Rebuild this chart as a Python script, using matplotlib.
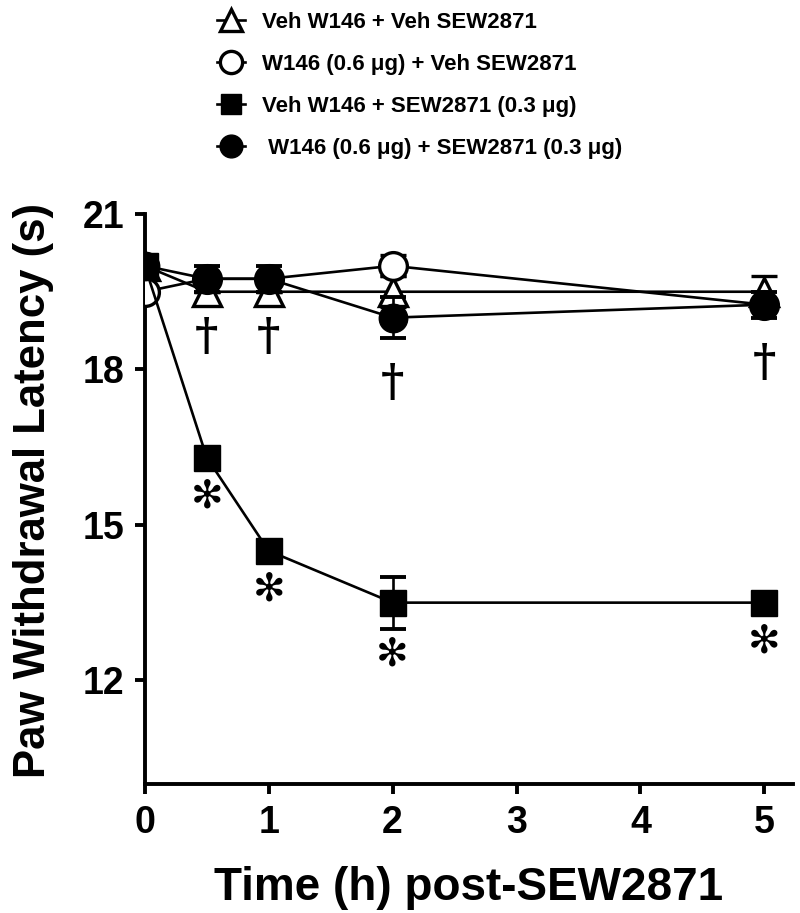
import numpy as np
import matplotlib.pyplot as plt
from matplotlib.lines import Line2D

# time points (h)
time_h = [0, 0.5, 1, 2, 5]

# mean paw withdrawal latency (s) and SEM
veh_veh = [20.0, 19.5, 19.5, 19.5, 19.5]
veh_veh_sem = [0.0, 0.0, 0.0, 0.3, 0.3]
w146_veh = [19.5, 19.75, 19.75, 20.0, 19.25]
w146_veh_sem = [0.0, 0.0, 0.0, 0.2, 0.0]
veh_sew = [20.0, 16.3, 14.5, 13.5, 13.5]
veh_sew_sem = [0.0, 0.0, 0.0, 0.5, 0.0]
w146_sew = [20.0, 19.75, 19.75, 19.0, 19.25]
w146_sew_sem = [0.0, 0.25, 0.25, 0.4, 0.25]

labels = [
    "Veh W146 + Veh SEW2871",
    "W146 (0.6 \u03bcg) + Veh SEW2871",
    "Veh W146 + SEW2871 (0.3 \u03bcg)",
    " W146 (0.6 \u03bcg) + SEW2871 (0.3 \u03bcg)",
]

# significance marks
star_x = [0.5, 1, 2, 5]      # * vs vehicle
dagger_x = [0.5, 1, 2, 5]    # dagger vs SEW2871 alone

plt.rcParams['font.family'] = ['Liberation Sans', 'DejaVu Sans']
plt.rcParams['font.weight'] = 'bold'

fig = plt.figure(figsize=(8, 9.13), dpi=100)
ax = fig.add_axes([0.181, 0.1413, 0.81, 0.6243])

lw = 1.9
common = dict(color='black', linewidth=lw, elinewidth=lw, capsize=9.5, capthick=2.8)

styles = [
    dict(marker='^', ms=20, mfc='white', mec='black', mew=2.4),
    dict(marker='o', ms=20, mfc='white', mec='black', mew=2.4),
    dict(marker='s', ms=18.5, mfc='black', mec='black'),
    dict(marker='o', ms=20.5, mfc='black', mec='black'),
]
series = [(veh_veh, veh_veh_sem), (w146_veh, w146_veh_sem),
          (veh_sew, veh_sew_sem), (w146_sew, w146_sew_sem)]

for k, ((m, e), st) in enumerate(zip(series, styles)):
    ax.errorbar(time_h, m, yerr=e, zorder=3 + k, **common, **st)

# asterisks under the SEW2871 squares
for xv in star_x:
    i = time_h.index(xv)
    below = max(13, veh_sew_sem[i] * 52)
    ax.annotate("\u273b", (xv, veh_sew[i]), xytext=(0, -(below + 26)),
                textcoords='offset pixels', ha='center', va='center',
                fontsize=28, family=['DejaVu Sans'], zorder=7)

# daggers under the W146 + SEW2871 circles
for xv in dagger_x:
    i = time_h.index(xv)
    below = max(14, w146_sew_sem[i] * 52)
    ax.annotate("\u2020", (xv, w146_sew[i]), xytext=(0, -(below + 45)),
                textcoords='offset pixels', ha='center', va='center',
                fontsize=32, fontweight='bold',
                family=['DejaVu Serif'], zorder=7)

ax.set_xlim(0, 5.23)
ax.set_ylim(10, 21)
ax.set_xticks([0, 1, 2, 3, 4, 5])
ax.set_yticks([12, 15, 18, 21])
ax.spines['top'].set_visible(False)
ax.spines['right'].set_visible(False)
for s in ['left', 'bottom']:
    ax.spines[s].set_linewidth(2.8)
ax.tick_params(width=2.8, length=7, labelsize=27, pad=8)
for t in ax.get_xticklabels() + ax.get_yticklabels():
    t.set_fontweight('bold')

ax.set_xlabel("Time (h) post-SEW2871", fontsize=33, fontweight='bold', labelpad=18)
ax.set_ylabel("Paw Withdrawal Latency (s)", fontsize=31.5, fontweight='bold')
ax.yaxis.set_label_coords(-0.14, 0.515)

handles = []
for st in styles:
    st2 = dict(st)
    st2['ms'] = st['ms'] * 0.8
    handles.append(Line2D([0], [0], color='black', lw=lw, **st2))

leg = fig.legend(handles, labels, loc='upper left',
                 bbox_to_anchor=(0.252, 1.004), frameon=False,
                 fontsize=16, handlelength=1.25, handletextpad=0.75,
                 labelspacing=0.95, borderpad=0.2)
for t in leg.get_texts():
    t.set_fontweight('bold')

fig.savefig("out.png", dpi=100)
